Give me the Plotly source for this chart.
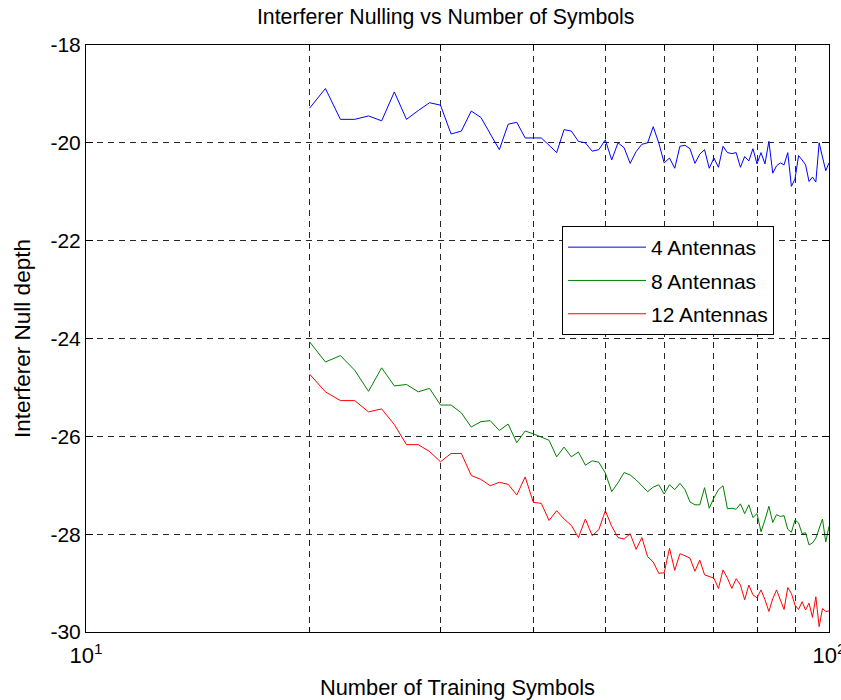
import plotly.graph_objects as go

num_symbols = list(range(20, 101))

antenna4 = [-19.29, -18.89, -19.52, -19.52, -19.45, -19.55, -18.96, -19.52, -19.34, -19.18,
            -19.23, -19.82, -19.76, -19.35, -19.48, -19.81, -20.14, -19.62, -19.58, -19.90,
            -19.90, -19.90, -20.05, -20.20, -19.73, -19.76, -19.97, -20.00, -20.17, -20.14,
            -19.94, -20.35, -20.00, -20.10, -20.42, -20.18, -20.03, -20.00, -19.67, -20.00,
            -20.41, -20.31, -20.52, -20.07, -20.05, -20.12, -20.42, -20.23, -20.14, -20.52,
            -20.31, -20.50, -20.07, -20.20, -20.22, -20.20, -20.50, -20.28, -20.37, -20.12,
            -20.43, -20.20, -20.43, -19.97, -20.62, -20.47, -20.41, -20.45, -20.20, -20.89,
            -20.74, -20.26, -20.35, -20.45, -20.79, -20.70, -20.80, -20.00, -20.29, -20.57,
            -20.41]

antenna8 = [-24.07, -24.48, -24.35, -24.65, -25.08, -24.60, -24.97, -24.94, -25.09, -25.02,
            -25.36, -25.36, -25.52, -25.81, -25.70, -25.68, -25.88, -25.75, -26.13, -25.89,
            -25.95, -26.02, -26.08, -26.42, -26.22, -26.42, -26.32, -26.59, -26.50, -26.53,
            -26.75, -27.13, -26.95, -26.74, -26.79, -26.89, -27.02, -27.13, -27.04, -26.99,
            -27.18, -26.99, -27.09, -26.96, -27.09, -27.34, -27.40, -27.40, -27.05, -27.47,
            -27.26, -27.09, -27.01, -27.48, -27.47, -27.49, -27.38, -27.58, -27.40, -27.66,
            -27.58, -27.95, -27.71, -27.43, -27.76, -27.60, -27.64, -27.62, -27.90, -27.96,
            -27.71, -27.77, -27.99, -27.97, -28.22, -28.18, -28.08, -27.88, -27.69, -28.16,
            -27.84]

antenna12 = [-24.73, -25.09, -25.27, -25.27, -25.50, -25.44, -25.76, -26.17, -26.17, -26.31,
             -26.52, -26.35, -26.35, -26.80, -26.88, -27.01, -26.94, -26.98, -27.20, -26.83,
             -27.35, -27.37, -27.72, -27.52, -27.69, -27.82, -28.07, -27.69, -28.03, -27.91,
             -27.52, -27.84, -28.07, -28.10, -27.99, -28.31, -28.07, -28.46, -28.57, -28.80,
             -28.79, -28.29, -28.74, -28.40, -28.44, -28.49, -28.76, -28.53, -28.83, -28.87,
             -28.90, -29.11, -28.73, -28.90, -29.11, -28.91, -29.04, -29.34, -29.04, -29.24,
             -29.30, -29.14, -29.34, -29.58, -29.32, -29.14, -29.34, -29.54, -29.09, -29.21,
             -29.45, -29.54, -29.38, -29.55, -29.41, -29.70, -29.28, -29.89, -29.52, -29.58,
             -29.57]

series_names = ["4 Antennas", "8 Antennas", "12 Antennas"]
series_colors = ["#0000FF", "#008000", "#FF0000"]

x_major = [10, 100]
x_major_text = ["10<sup>1</sup>", "10<sup>2</sup>"]
x_minor = [20, 30, 40, 50, 60, 70, 80, 90]
y_ticks = [-30, -28, -26, -24, -22, -20, -18]
y_tick_text = ["-30", "-28", "-26", "-24", "-22", "-20", "-18"]

FONT = "Liberation Sans, Arial, sans-serif"

fig = go.Figure()
for name, ys, col in zip(series_names, [antenna4, antenna8, antenna12], series_colors):
    fig.add_trace(go.Scatter(x=num_symbols, y=ys, mode="lines", name=name,
                             legendgroup=name,
                             line=dict(color=col, width=1)))

grid_col = "rgba(0,0,0,0.85)"
fig.update_layout(
    width=841, height=700,
    paper_bgcolor="white", plot_bgcolor="white",
    margin=dict(l=86, r=12, t=45, b=68, autoexpand=False),
    font=dict(family=FONT, size=20, color="black"),
    title=dict(text="Interferer Nulling vs Number of Symbols", x=0.53, xref="container",
               xanchor="center", y=1 - 17 / 700, yanchor="middle", yref="container",
               font=dict(family=FONT, size=21.3, color="black")),
    showlegend=True,
    legend=dict(x=(562 - 86) / 743, y=1 - (226 - 45) / 587, xanchor="left", yanchor="top",
                bgcolor="white", bordercolor="black", borderwidth=1,
                font=dict(family=FONT, size=21, color="black"),
                itemwidth=78, tracegroupgap=3),
)
fig.update_xaxes(
    type="log", range=[1, 2], automargin=False,
    tickvals=x_major, ticktext=x_major_text,
    ticks="inside", ticklen=7, tickcolor="black", mirror="ticks",
    showline=True, linecolor="black", linewidth=1,
    showgrid=False, zeroline=False,
    ticklabeloverflow="allow", ticklabelstandoff=4,
    tickfont=dict(family=FONT, size=22),
    minor=dict(tickvals=x_minor, ticks="inside", ticklen=5, tickcolor="black",
               showgrid=True, gridcolor=grid_col, griddash="6px,5px", gridwidth=1),
    title=dict(text="Number of Training Symbols", font=dict(family=FONT, size=21.8), standoff=14),
)
fig.update_yaxes(
    range=[-30, -18], automargin=False,
    tickvals=y_ticks, ticktext=y_tick_text,
    ticks="inside", ticklen=7, tickcolor="black", mirror="ticks",
    showline=True, linecolor="black", linewidth=1,
    showgrid=True, gridcolor=grid_col, griddash="6px,5px", gridwidth=1,
    zeroline=False,
    tickfont=dict(family=FONT, size=21),
    title=dict(text="Interferer Null depth", font=dict(family=FONT, size=22.5), standoff=13),
)
fig.write_html("out.html",
               config={"displayModeBar": False},
               post_script="document.body.style.margin='0';document.body.style.padding='0';")
